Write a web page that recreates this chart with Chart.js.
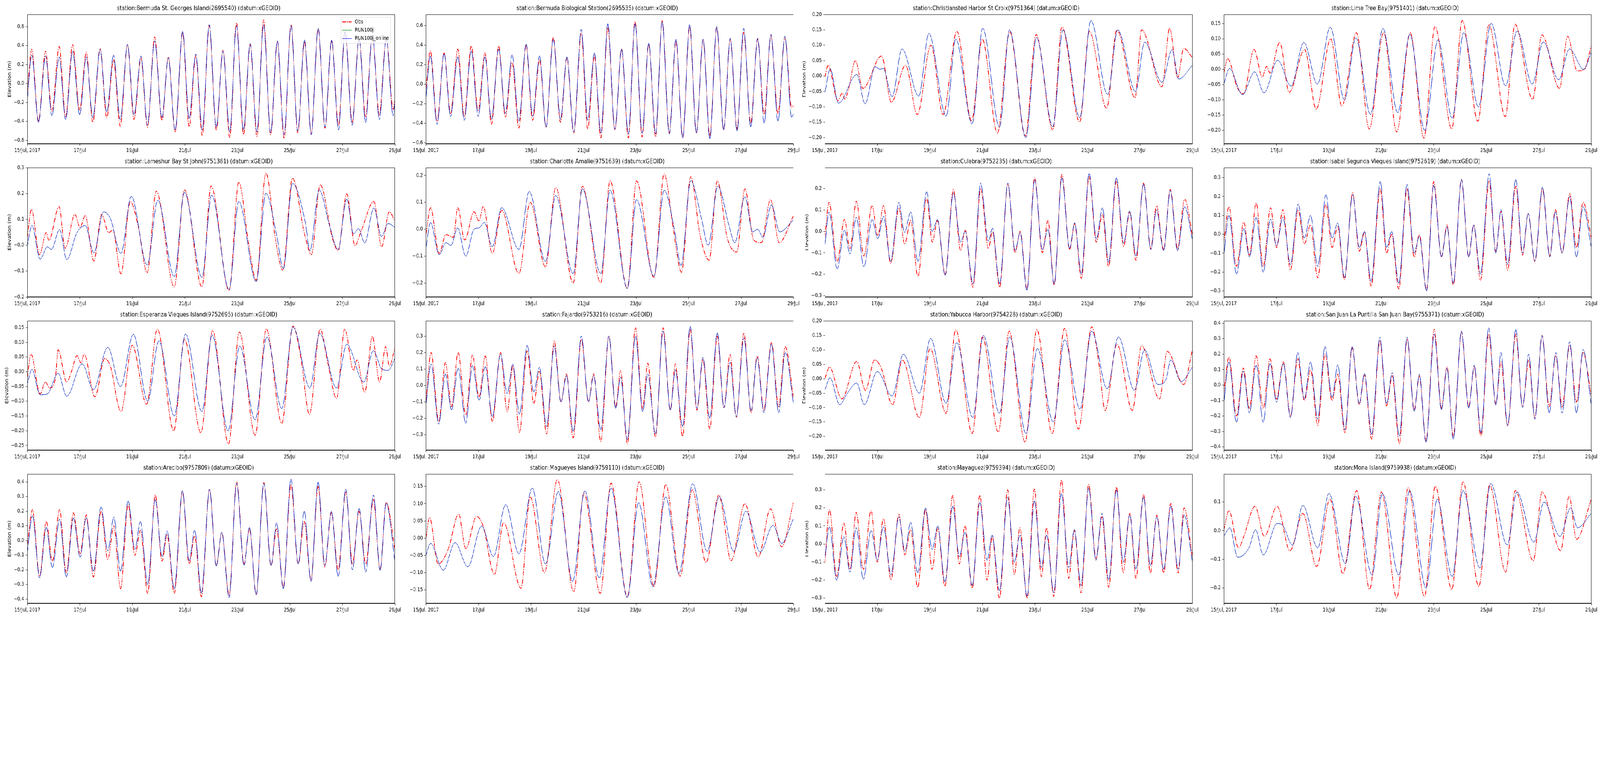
<!DOCTYPE html>
<html><head><meta charset="utf-8">
<script src="https://cdn.jsdelivr.net/npm/chart.js@4.4.0/dist/chart.umd.min.js"></script>
<style>
html,body{margin:0;padding:0;background:#fff;overflow:hidden}
#stage{position:absolute;left:0;top:0;width:5150px;height:1950px;background:#fff;transform-origin:0 0}
#stage canvas{position:absolute}
</style></head>
<body>
<div id="stage"></div>
<script>
// ---------------- DATA ----------------
const xTickLabels = ['15/Jul, 2017','17/Jul','19/Jul','21/Jul','23/Jul','25/Jul','27/Jul','29/Jul'];
const seriesLabels = ['Obs','RUN100j','RUN100j_online'];
const stationTitles = [
 'station:Bermuda St. Georges Island(2695540) (datum:xGEOID)',
 'station:Bermuda Biological Station(2695535) (datum:xGEOID)',
 'station:Christiansted Harbor St Croix(9751364) (datum:xGEOID)',
 'station:Lime Tree Bay(9751401) (datum:xGEOID)',
 'station:Lameshur Bay St John(9751381) (datum:xGEOID)',
 'station:Charlotte Amalie(9751639) (datum:xGEOID)',
 'station:Culebra(9752235) (datum:xGEOID)',
 'station:Isabel Segunda Vieques Island(9752619) (datum:xGEOID)',
 'station:Esperanza Vieques Island(9752695) (datum:xGEOID)',
 'station:Fajardo(9753216) (datum:xGEOID)',
 'station:Yabucoa Harbor(9754228) (datum:xGEOID)',
 'station:San Juan La Puntilla San Juan Bay(9755371) (datum:xGEOID)',
 'station:Arecibo(9757809) (datum:xGEOID)',
 'station:Magueyes Island(9759110) (datum:xGEOID)',
 'station:Mayaguez(9759394) (datum:xGEOID)',
 'station:Mona Island(9759938) (datum:xGEOID)'
];
const yMins  = [-0.636,-0.611,-0.22,-0.244,-0.249,-0.252,-0.306,-0.332,-0.266,-0.394,-0.248,-0.421,-0.429,-0.189,-0.329,-0.254];
const yMaxs  = [0.728,0.713,0.20,0.18,0.251,0.229,0.297,0.353,0.173,0.393,0.201,0.416,0.454,0.186,0.388,0.198];
const ySteps = [0.2,0.2,0.05,0.05,0.1,0.1,0.1,0.1,0.05,0.1,0.05,0.1,0.1,0.05,0.1,0.1];

// hours since 15 Jul 2017 00:00
const tBermuda = [0,4.0,10.2,16.6,22.5,29.1,35.0,41.4,47.8,53.9,59.9,66.5,72.6,78.8,84.9,91.6,97.5,103.9,109.8,116.4,123.0,128.9,135.1,142.0,147.9,154.0,159.9,166.3,172.7,178.9,185.0,191.2,197.6,203.7,209.9,216.0,222.4,228.6,234.7,241.1,247.2,253.4,259.5,265.9,272.1,278.2,284.4,290.5,296.9,303.3,309.2,315.4,321.8,328.2,334.3,336];
const modStGeorges = [-0.16,0.30,-0.41,0.29,-0.34,0.28,-0.38,0.34,-0.33,0.28,-0.36,0.36,-0.30,0.30,-0.38,0.41,-0.33,0.29,-0.44,0.45,-0.36,0.27,-0.49,0.55,-0.37,0.31,-0.49,0.62,-0.46,0.34,-0.51,0.61,-0.49,0.42,-0.51,0.62,-0.52,0.45,-0.54,0.61,-0.50,0.46,-0.54,0.58,-0.46,0.46,-0.49,0.55,-0.44,0.47,-0.41,0.51,-0.38,0.47,-0.34,-0.20];
const obsStGeorges = [-0.10,0.36,-0.40,0.34,-0.29,0.39,-0.35,0.41,-0.28,0.33,-0.41,0.37,-0.36,0.25,-0.45,0.41,-0.38,0.27,-0.46,0.49,-0.39,0.28,-0.51,0.54,-0.46,0.29,-0.55,0.61,-0.49,0.35,-0.57,0.64,-0.54,0.41,-0.56,0.67,-0.54,0.44,-0.58,0.62,-0.52,0.44,-0.53,0.58,-0.47,0.45,-0.44,0.55,-0.41,0.47,-0.35,0.50,-0.33,0.48,-0.27,-0.18];
const modBioStation = [-0.15,0.29,-0.41,0.31,-0.33,0.28,-0.37,0.34,-0.33,0.28,-0.36,0.36,-0.30,0.30,-0.38,0.41,-0.33,0.29,-0.44,0.46,-0.36,0.28,-0.49,0.56,-0.37,0.32,-0.50,0.62,-0.46,0.36,-0.51,0.62,-0.50,0.42,-0.51,0.64,-0.51,0.46,-0.55,0.61,-0.50,0.46,-0.56,0.59,-0.47,0.47,-0.48,0.57,-0.44,0.47,-0.40,0.51,-0.38,0.49,-0.34,-0.30];
const obsBioStation = [-0.05,0.34,-0.38,0.32,-0.30,0.36,-0.33,0.39,-0.27,0.32,-0.41,0.39,-0.34,0.22,-0.45,0.40,-0.37,0.25,-0.44,0.48,-0.39,0.27,-0.50,0.52,-0.46,0.29,-0.55,0.58,-0.47,0.36,-0.55,0.64,-0.54,0.41,-0.54,0.65,-0.50,0.44,-0.55,0.59,-0.50,0.45,-0.53,0.58,-0.47,0.46,-0.46,0.53,-0.40,0.46,-0.31,0.49,-0.30,0.47,-0.24,-0.22];

const tModChristiansted = [0,4.9,12.5,29.2,36.8,45.9,50.6,53.4,61.5,70.5,85.9,95.1,110.9,119.7,134.6,144.3,159.7,168.9,183.8,193.5,208.4,217.7,233.0,243.2,258.5,267.8,284.0,292.4,308.2,317.4,323.5,336];
const modChristiansted = [-0.055,0.023,-0.088,0.005,-0.09,0.03,0.022,0.025,-0.067,0.088,-0.065,0.138,-0.13,0.12,-0.155,0.155,-0.165,0.15,-0.20,0.125,-0.165,0.15,-0.135,0.18,-0.06,0.15,-0.05,0.11,-0.02,0.085,-0.01,0.035];
const tObsChristiansted = [0,3.0,12.0,15.8,18.2,21.5,27.9,34.7,51.8,60.8,73.8,84.5,97.0,108.1,120.7,134.1,143.9,157.8,169.0,183.3,193.1,208.4,216.7,233.0,241.8,257.6,266.9,283.6,289.6,308.2,315.2,322.6,328.1,336];
const obsChristiansted = [-0.005,0.035,-0.08,-0.055,-0.075,-0.045,0.05,-0.04,0.065,-0.085,0.035,-0.125,0.10,-0.125,0.145,-0.145,0.12,-0.185,0.145,-0.195,0.135,-0.175,0.16,-0.15,0.145,-0.105,0.15,-0.07,0.15,-0.035,0.155,-0.005,0.09,0.06];

const tModLimeTree = [0,5.2,17.1,28.2,36.8,49.3,61.5,73.2,85.6,97.4,110.3,120.8,134.2,145.5,159.1,170.1,183.7,195.9,208.8,219.4,232.8,244.5,257.6,268.2,282.0,292.1,306.2,316.1,329.0,336];
const modLimeTree = [-0.05,0.003,-0.083,-0.008,-0.077,0.03,-0.055,0.088,-0.048,0.138,-0.10,0.103,-0.148,0.134,-0.142,0.115,-0.20,0.097,-0.16,0.12,-0.123,0.151,-0.054,0.126,-0.048,0.09,-0.034,0.067,0.0,0.056];
const tObsLimeTree = [0,3.5,12.4,18.0,27.7,35.2,39.2,42.2,51.2,59.8,73.9,84.5,97.8,107.9,121.3,133.0,146.2,158.1,170.5,183.0,193.1,208.4,218.0,232.3,242.4,257.4,266.3,282.3,290.9,306.9,314.4,323.1,329.6,336];
const obsLimeTree = [-0.015,0.035,-0.06,-0.08,0.065,-0.025,0.01,-0.012,0.088,-0.075,0.065,-0.13,0.10,-0.12,0.12,-0.195,0.12,-0.205,0.12,-0.225,0.14,-0.195,0.16,-0.17,0.145,-0.155,0.148,-0.098,0.113,-0.062,0.108,-0.005,0.0,0.077];

const tModLameshur = [0,4.2,11.7,18.3,22.0,29.5,36.0,45.4,52.9,60.8,69.7,75.8,85.6,95.0,109.5,119.3,134.3,143.6,159.6,168.5,184.4,193.3,209.2,218.1,227.9,234.0,242.4,254.1,258.3,266.8,276.1,284.1,292.0,298.1,302.8,308.4,316.8,323.8,329.9,336];
const modLameshur = [-0.05,0.027,-0.103,-0.055,-0.065,0.012,-0.104,0.0,0.027,-0.078,0.08,0.055,-0.08,0.14,-0.125,0.125,-0.17,0.155,-0.173,0.145,-0.22,0.12,-0.19,0.152,-0.01,-0.14,0.19,0.04,-0.07,0.165,0.03,-0.065,0.13,-0.005,0.015,-0.04,0.095,-0.015,0.035,0.02];
const tObsLameshur = [0,3.7,11.2,17.3,19.7,29.0,34.6,43.5,48.2,52.9,60.8,67.9,74.4,78.2,85.6,94.1,101.6,109.5,117.9,134.3,143.7,159.6,168.0,184.4,193.3,202.2,209.2,218.1,227.0,233.5,242.4,253.7,259.7,267.7,279.4,284.1,292.0,299.5,305.1,316.8,323.9,330.9,336];
const obsLameshur = [-0.02,0.09,-0.085,0.0,-0.03,0.10,-0.06,0.07,0.02,0.065,-0.11,0.07,0.0,0.01,-0.16,0.12,0.02,-0.155,0.16,-0.21,0.165,-0.21,0.18,-0.225,0.195,-0.04,-0.185,0.23,-0.03,-0.145,0.21,-0.01,-0.085,0.185,-0.03,-0.07,0.15,-0.05,0.005,0.12,-0.055,0.08,0.045];

const tModCharlotte = [0,4.2,12.1,18.2,22.9,29.0,36.4,43.9,48.6,53.3,60.7,69.2,85.0,94.4,109.3,118.7,134.6,143.0,159.8,168.3,184.1,192.5,208.4,217.8,227.1,233.2,242.1,251.9,258.0,266.9,276.7,282.3,291.6,298.7,303.3,308.0,315.9,323.4,336];
const modCharlotte = [-0.07,0.025,-0.095,-0.05,-0.06,0.005,-0.10,0.0,0.005,0.025,-0.065,0.08,-0.075,0.14,-0.12,0.125,-0.165,0.15,-0.165,0.145,-0.22,0.11,-0.175,0.145,0.0,-0.135,0.18,0.04,-0.06,0.16,0.02,-0.05,0.12,-0.01,0.0,-0.03,0.09,-0.01,0.035];
const tObsCharlotte = [0,4.2,12.1,18.2,25.2,29.0,35.5,43.9,48.6,52.3,60.7,69.2,85.0,95.3,109.3,118.7,134.6,143.0,159.8,168.3,184.1,192.5,208.4,217.8,226.2,233.6,242.1,250.5,258.9,266.4,275.3,284.1,291.6,299.6,306.6,315.0,322.9,336];
const obsCharlotte = [-0.02,0.08,-0.09,-0.02,-0.03,0.08,-0.04,0.065,0.03,0.085,-0.09,0.07,-0.165,0.10,-0.14,0.155,-0.20,0.16,-0.20,0.18,-0.22,0.18,-0.18,0.205,0.0,-0.16,0.195,-0.02,-0.115,0.18,-0.03,-0.085,0.15,-0.04,-0.05,0.11,-0.05,0.05];

const tCulebra = [0,3.8,11.3,17.9,23.0,28.7,35.7,43.2,48.4,53.6,60.2,67.7,72.9,78.5,85.1,93.1,98.2,102.9,110.0,117.5,124.1,128.3,135.4,142.4,149.5,153.2,159.8,167.3,173.9,178.6,184.7,191.8,198.8,204.0,209.6,216.7,223.7,228.4,234.5,241.6,248.2,253.8,259.4,266.5,273.1,278.7,284.4,291.4,298.0,303.2,309.7,315.8,322.4,329.0,336];
const modCulebra = [-0.07,0.09,-0.175,0.005,-0.105,0.065,-0.165,0.055,-0.035,0.07,-0.14,0.135,-0.005,0.09,-0.14,0.185,0.0,0.055,-0.205,0.18,-0.05,0.0,-0.245,0.225,-0.045,0.015,-0.245,0.225,-0.09,-0.005,-0.275,0.24,-0.085,0.01,-0.245,0.25,-0.08,0.04,-0.20,0.27,-0.035,0.11,-0.145,0.25,-0.055,0.095,-0.115,0.22,-0.085,0.10,-0.09,0.19,-0.09,0.115,-0.04];
const obsCulebra = [-0.03,0.135,-0.14,0.055,-0.08,0.14,-0.115,0.12,-0.02,0.12,-0.15,0.11,-0.06,0.05,-0.21,0.155,-0.05,0.05,-0.20,0.195,-0.09,0.005,-0.26,0.20,-0.08,0.0,-0.26,0.22,-0.10,0.0,-0.27,0.25,-0.10,0.05,-0.25,0.265,-0.085,0.035,-0.22,0.255,-0.05,0.08,-0.165,0.235,-0.07,0.09,-0.135,0.225,-0.08,0.12,-0.085,0.195,-0.08,0.15,-0.02];

const tIsabel = [0,4.7,11.7,18.3,23.5,29.6,36.1,42.7,48.3,54.0,61.0,68.0,73.7,79.3,85.9,93.4,99.0,104.2,110.3,117.8,123.9,128.6,134.7,143.1,148.8,153.5,160.0,167.5,174.1,178.8,185.4,191.9,199.0,204.1,209.8,217.3,223.9,228.5,234.7,242.6,248.7,253.4,259.5,267.0,273.1,278.3,284.4,291.4,298.0,303.2,309.3,316.3,322.4,328.5,336];
const modIsabel = [-0.12,0.10,-0.21,0.03,-0.12,0.09,-0.20,0.08,-0.06,0.09,-0.16,0.16,-0.02,0.10,-0.17,0.21,-0.02,0.06,-0.23,0.21,-0.07,0.015,-0.25,0.28,-0.07,0.015,-0.26,0.265,-0.10,-0.01,-0.30,0.26,-0.12,0.04,-0.26,0.29,-0.12,0.05,-0.21,0.32,-0.10,0.13,-0.16,0.29,-0.10,0.11,-0.14,0.25,-0.12,0.12,-0.10,0.20,-0.12,0.145,-0.07];
const obsIsabel = [-0.05,0.145,-0.17,0.065,-0.11,0.165,-0.17,0.14,-0.07,0.13,-0.19,0.13,-0.05,0.05,-0.23,0.16,-0.07,0.04,-0.24,0.22,-0.09,0.01,-0.275,0.24,-0.10,0.0,-0.29,0.24,-0.12,0.0,-0.295,0.28,-0.12,0.05,-0.27,0.29,-0.12,0.05,-0.245,0.28,-0.09,0.12,-0.19,0.255,-0.11,0.11,-0.145,0.24,-0.115,0.13,-0.095,0.215,-0.07,0.17,-0.02];

const tModEsperanza = [0,4.2,11.7,18.3,28.1,36.0,50.1,60.4,73.5,85.2,96.9,110.0,120.3,134.3,144.6,159.6,168.9,183.5,194.2,208.2,219.0,232.6,242.9,258.3,267.2,282.6,292.0,307.5,316.3,323.9,329.9,336];
const modEsperanza = [-0.04,0.008,-0.078,-0.075,-0.005,-0.083,0.027,-0.06,0.083,-0.05,0.127,-0.10,0.105,-0.15,0.128,-0.135,0.125,-0.20,0.087,-0.163,0.118,-0.125,0.152,-0.055,0.13,-0.055,0.093,-0.035,0.072,0.01,0.005,0.045];
const tObsEsperanza = [0,3.3,11.7,16.4,20.6,25.7,28.1,36.0,40.7,45.4,49.1,51.9,61.8,70.7,75.8,85.6,95.9,109.0,118.9,133.8,143.7,158.6,169.4,183.9,193.8,208.2,218.5,232.6,242.9,250.4,257.9,267.7,274.7,282.7,290.2,298.1,301.4,308.4,315.4,322.0,327.6,330.9,336];
const obsEsperanza = [-0.02,0.06,-0.075,-0.035,-0.055,-0.02,0.075,-0.035,0.005,0.055,0.03,0.06,-0.085,0.045,0.02,-0.135,0.09,-0.11,0.145,-0.20,0.11,-0.207,0.14,-0.245,0.135,-0.215,0.145,-0.175,0.155,0.04,-0.145,0.145,0.03,-0.09,0.145,0.005,0.04,-0.07,0.12,-0.035,0.085,0.02,0.08];

const tFajardo = [0,4.7,11.7,17.8,23.4,29.4,36.4,42.5,48.6,54.2,60.7,68.2,74.3,79.4,85.5,92.5,98.6,103.7,110.3,117.3,123.4,128.5,134.6,142.1,148.6,153.3,159.8,167.3,173.4,178.0,184.1,191.6,198.1,202.8,209.8,216.8,223.4,228.0,234.6,241.6,247.7,253.3,259.4,266.4,272.4,278.0,283.7,290.7,297.2,302.8,308.9,315.9,322.4,328.5,336];
const modFajardo = [-0.12,0.13,-0.235,0.07,-0.15,0.105,-0.23,0.12,-0.09,0.115,-0.19,0.19,-0.05,0.13,-0.175,0.245,-0.04,0.11,-0.25,0.24,-0.10,0.06,-0.28,0.30,-0.10,0.06,-0.27,0.30,-0.14,0.05,-0.33,0.30,-0.16,0.07,-0.295,0.33,-0.15,0.095,-0.25,0.36,-0.14,0.17,-0.20,0.32,-0.135,0.14,-0.19,0.29,-0.155,0.17,-0.165,0.25,-0.165,0.20,-0.115];
const obsFajardo = [-0.10,0.20,-0.22,0.14,-0.13,0.20,-0.18,0.185,-0.07,0.18,-0.22,0.20,-0.16,0.12,-0.285,0.21,-0.11,0.085,-0.295,0.27,-0.10,0.07,-0.32,0.28,-0.10,0.07,-0.34,0.30,-0.13,0.09,-0.355,0.35,-0.14,0.135,-0.315,0.35,-0.15,0.13,-0.31,0.34,-0.15,0.16,-0.265,0.30,-0.135,0.19,-0.195,0.32,-0.165,0.18,-0.15,0.26,-0.13,0.235,-0.08];

const tModYabucoa = [0,4.7,13.6,20.6,29.1,36.1,47.9,61.5,71.8,86.4,96.7,110.8,120.6,135.2,145.0,159.6,169.0,183.9,194.3,208.8,219.2,233.2,244.0,258.1,268.4,283.0,292.3,304.5,311.6,316.3,325.7,336];
const modYabucoa = [-0.04,0.003,-0.09,-0.05,-0.015,-0.09,0.025,-0.06,0.085,-0.05,0.14,-0.085,0.125,-0.135,0.15,-0.12,0.145,-0.19,0.105,-0.15,0.135,-0.105,0.165,-0.035,0.145,-0.04,0.10,-0.02,-0.005,0.065,-0.01,0.04];
const tObsYabucoa = [0,4.2,15.5,29.1,37.1,45.5,51.2,61.9,70.9,86.4,96.2,110.8,119.7,134.7,144.1,158.6,168.5,183.0,193.8,207.9,219.2,231.8,244.0,250.6,256.2,267.0,281.1,289.5,305.9,313.0,328.0,336];
const obsYabucoa = [0.0,0.04,-0.07,0.06,-0.04,0.065,0.04,-0.09,0.065,-0.135,0.105,-0.12,0.17,-0.19,0.145,-0.185,0.165,-0.22,0.17,-0.19,0.175,-0.175,0.18,0.05,-0.11,0.12,-0.11,0.115,-0.07,0.095,-0.02,0.10];

const tSanJuan = [0,4.7,11.7,17.8,23.5,29.6,36.1,42.2,48.3,54.4,61.0,67.6,73.7,79.3,85.9,92.5,99.0,104.2,110.8,117.3,123.9,128.6,135.2,142.7,148.8,154.0,160.5,167.6,174.1,178.8,184.9,192.4,199.0,204.1,209.8,217.3,223.9,229.0,235.1,242.2,248.7,253.4,259.5,267.0,273.1,278.8,284.4,291.0,297.5,303.6,309.3,316.3,322.4,328.5,336];
const modSanJuan = [-0.13,0.15,-0.24,0.09,-0.18,0.13,-0.24,0.14,-0.11,0.14,-0.21,0.21,-0.09,0.15,-0.22,0.25,-0.08,0.13,-0.29,0.25,-0.12,0.075,-0.32,0.31,-0.12,0.08,-0.33,0.31,-0.17,0.07,-0.37,0.33,-0.16,0.11,-0.35,0.35,-0.15,0.13,-0.31,0.37,-0.13,0.21,-0.26,0.36,-0.145,0.20,-0.22,0.32,-0.18,0.21,-0.18,0.28,-0.18,0.23,-0.13];
const obsSanJuan = [-0.06,0.18,-0.20,0.11,-0.15,0.19,-0.15,0.17,-0.09,0.15,-0.20,0.17,-0.10,0.10,-0.26,0.20,-0.10,0.07,-0.31,0.24,-0.125,0.065,-0.35,0.29,-0.135,0.06,-0.38,0.30,-0.16,0.06,-0.36,0.36,-0.15,0.12,-0.33,0.34,-0.14,0.12,-0.33,0.33,-0.12,0.15,-0.265,0.33,-0.14,0.16,-0.21,0.32,-0.14,0.19,-0.14,0.26,-0.11,0.21,-0.07];

const tArecibo = [0,4.7,11.2,17.3,22.9,29.5,35.6,42.1,48.2,53.8,60.4,67.4,73.5,79.1,85.2,92.2,98.3,103.4,110.0,117.0,123.1,127.8,134.3,141.8,147.9,153.0,159.1,166.6,172.7,177.8,184.4,191.4,198.0,203.1,209.2,216.2,222.8,227.9,234.0,241.0,247.6,253.2,259.3,265.8,271.9,278.0,284.1,291.1,297.2,303.3,309.3,316.4,322.5,328.1,336];
const modArecibo = [-0.08,0.17,-0.255,0.09,-0.185,0.145,-0.25,0.155,-0.115,0.155,-0.21,0.23,-0.07,0.16,-0.21,0.27,-0.06,0.13,-0.30,0.28,-0.11,0.065,-0.33,0.34,-0.14,0.07,-0.36,0.35,-0.175,0.055,-0.39,0.39,-0.17,0.09,-0.37,0.39,-0.17,0.12,-0.33,0.42,-0.16,0.20,-0.28,0.40,-0.17,0.20,-0.245,0.35,-0.20,0.22,-0.215,0.31,-0.205,0.255,-0.14];
const obsArecibo = [-0.03,0.21,-0.245,0.13,-0.14,0.21,-0.22,0.19,-0.09,0.175,-0.25,0.20,-0.13,0.10,-0.33,0.245,-0.10,0.07,-0.36,0.31,-0.14,0.04,-0.36,0.335,-0.16,0.03,-0.385,0.35,-0.17,0.055,-0.375,0.40,-0.16,0.08,-0.37,0.395,-0.17,0.08,-0.32,0.38,-0.16,0.13,-0.27,0.37,-0.18,0.19,-0.20,0.33,-0.16,0.20,-0.16,0.28,-0.20,0.26,-0.06];

const tModMagueyes = [0,4.2,15.9,26.6,38.3,50.9,61.7,72.9,85.0,97.2,109.3,121.0,134.1,145.3,158.4,169.2,184.1,194.4,207.5,219.2,231.3,243.9,257.0,268.2,281.3,292.5,305.6,317.3,325.2,336];
const modMagueyes = [-0.05,-0.015,-0.093,-0.013,-0.083,0.035,-0.053,0.097,-0.045,0.145,-0.075,0.135,-0.125,0.137,-0.115,0.145,-0.172,0.103,-0.14,0.12,-0.102,0.158,-0.038,0.12,-0.038,0.078,-0.04,0.037,-0.015,0.057];
const tObsMagueyes = [0,3.3,11.2,20.6,29.9,36.4,46.3,52.3,62.6,71.0,86.9,95.3,108.4,120.1,135.1,144.4,159.4,169.2,184.1,194.9,208.4,219.2,232.3,243.5,256.1,267.8,279.0,291.6,303.8,315.0,325.2,336];
const obsMagueyes = [0.0,0.06,-0.075,-0.03,0.07,-0.03,0.063,0.035,-0.105,0.045,-0.145,0.12,-0.10,0.17,-0.155,0.13,-0.16,0.16,-0.17,0.163,-0.14,0.155,-0.11,0.14,-0.07,0.125,-0.065,0.10,-0.055,0.085,-0.025,0.105];

const tMayaguez = [0,4.2,10.8,17.4,23.0,28.6,35.2,42.2,47.9,53.5,60.5,67.6,73.2,78.4,84.9,92.0,98.1,103.2,109.8,116.9,123.0,128.1,134.7,141.7,148.3,153.0,159.6,167.1,173.2,178.3,184.9,191.5,198.0,202.7,209.3,216.3,222.9,228.1,234.2,241.2,247.8,253.4,259.5,266.6,272.7,278.8,284.4,291.4,297.5,303.6,309.7,316.3,322.9,328.5,336];
const modMayaguez = [-0.08,0.095,-0.20,0.04,-0.155,0.09,-0.195,0.075,-0.09,0.095,-0.17,0.15,-0.04,0.12,-0.16,0.20,-0.03,0.10,-0.21,0.21,-0.07,0.065,-0.23,0.23,-0.09,0.05,-0.26,0.26,-0.10,0.05,-0.29,0.24,-0.13,0.05,-0.27,0.28,-0.13,0.08,-0.23,0.31,-0.09,0.17,-0.20,0.30,-0.10,0.16,-0.14,0.26,-0.12,0.15,-0.14,0.21,-0.14,0.16,-0.10];
const obsMayaguez = [-0.11,0.19,-0.18,0.115,-0.14,0.175,-0.14,0.185,-0.10,0.14,-0.20,0.165,-0.06,0.08,-0.24,0.19,-0.14,0.09,-0.235,0.27,-0.11,0.10,-0.245,0.27,-0.20,0.04,-0.30,0.30,-0.17,0.09,-0.30,0.305,-0.18,0.09,-0.29,0.355,-0.19,0.075,-0.27,0.33,-0.08,0.15,-0.24,0.315,-0.16,0.17,-0.19,0.275,-0.16,0.16,-0.16,0.225,-0.16,0.20,-0.07];

const tModMona = [0,5.6,12.7,23.0,29.1,36.1,48.8,53.5,62.9,72.3,85.9,96.2,111.2,120.6,135.6,145.0,160.0,169.9,184.9,195.2,208.8,218.7,234.2,244.0,259.1,268.0,283.5,292.8,307.4,317.2,323.3,336];
const modMona = [-0.02,0.01,-0.093,-0.06,0.003,-0.085,0.025,0.02,-0.05,0.088,-0.06,0.13,-0.115,0.12,-0.155,0.13,-0.155,0.14,-0.20,0.11,-0.16,0.14,-0.13,0.165,-0.05,0.135,-0.04,0.10,-0.02,0.08,0.01,0.06];
const tObsMona = [0,4.7,13.6,18.3,28.6,37.1,48.8,60.5,72.3,84.9,97.1,108.9,121.5,133.3,144.1,158.2,168.5,183.5,193.4,208.4,218.7,233.2,243.1,257.6,266.6,283.0,291.0,307.9,315.8,322.4,336];
const obsMona = [0.0,0.07,-0.06,-0.02,0.085,-0.02,0.085,-0.07,0.06,-0.125,0.11,-0.15,0.14,-0.205,0.135,-0.235,0.15,-0.23,0.155,-0.205,0.17,-0.195,0.16,-0.145,0.14,-0.105,0.135,-0.07,0.12,-0.03,0.11];

// table built from the arrays above
const stationSeries = [
  [tBermuda, modStGeorges, tBermuda, obsStGeorges],
  [tBermuda, modBioStation, tBermuda, obsBioStation],
  [tModChristiansted, modChristiansted, tObsChristiansted, obsChristiansted],
  [tModLimeTree, modLimeTree, tObsLimeTree, obsLimeTree],
  [tModLameshur, modLameshur, tObsLameshur, obsLameshur],
  [tModCharlotte, modCharlotte, tObsCharlotte, obsCharlotte],
  [tCulebra, modCulebra, tCulebra, obsCulebra],
  [tIsabel, modIsabel, tIsabel, obsIsabel],
  [tModEsperanza, modEsperanza, tObsEsperanza, obsEsperanza],
  [tFajardo, modFajardo, tFajardo, obsFajardo],
  [tModYabucoa, modYabucoa, tObsYabucoa, obsYabucoa],
  [tSanJuan, modSanJuan, tSanJuan, obsSanJuan],
  [tArecibo, modArecibo, tArecibo, obsArecibo],
  [tModMagueyes, modMagueyes, tObsMagueyes, obsMagueyes],
  [tMayaguez, modMayaguez, tMayaguez, obsMayaguez],
  [tModMona, modMona, tObsMona, obsMona]
];

// ---------------- LAYOUT / STYLE ----------------
const DESIGN_W = 5150, DESIGN_H = 1950;
const stage = document.getElementById('stage');
(function fitStage() {
  const vw = window.innerWidth || DESIGN_W, vh = window.innerHeight || DESIGN_H;
  const sx = vw / DESIGN_W, sy = vh / DESIGN_H;
  if (Math.abs(sx - 1) > 0.001 || Math.abs(sy - 1) > 0.001) {
    stage.style.transform = 'scale(' + sx + ',' + sy + ')';
  }
})();

const FONT = "'DejaVu Sans', 'Liberation Sans', sans-serif";
Chart.defaults.font.family = FONT;
Chart.defaults.color = '#000';
const COL_LEFT = [88, 1371, 2655, 3939];
const ROW_TOP = [37, 429, 821, 1213];
const AXW = 1183, AXH = 331;
const YW = 80, XH = 40, TH = 30, RP = 50;
const COLORS = {obs: '#ff0000', run: '#008000', online: '#0000ff'};
const OBS_DASH = [12, 3, 2.5, 3];

const framePlugin = {
  id: 'frame',
  afterDraw(chart) {
    const {ctx, chartArea: a} = chart;
    ctx.save();
    ctx.strokeStyle = '#000';
    ctx.lineWidth = 1;
    ctx.strokeRect(Math.round(a.left) + 0.5, Math.round(a.top) + 0.5, Math.round(a.right - a.left) - 1, Math.round(a.bottom - a.top) - 1);
    ctx.restore();
  }
};

const legendPlugin = {
  id: 'mplLegend',
  afterDraw(chart, args, opts) {
    if (!opts || !opts.show) return;
    const {ctx, chartArea: a} = chart;
    const bw = 159, bh = 67;
    const bx = a.right - 14 - bw, by = a.top + 7;
    ctx.save();
    const r = 3;
    ctx.beginPath();
    ctx.moveTo(bx + r, by);
    ctx.lineTo(bx + bw - r, by); ctx.arcTo(bx + bw, by, bx + bw, by + r, r);
    ctx.lineTo(bx + bw, by + bh - r); ctx.arcTo(bx + bw, by + bh, bx + bw - r, by + bh, r);
    ctx.lineTo(bx + r, by + bh); ctx.arcTo(bx, by + bh, bx, by + bh - r, r);
    ctx.lineTo(bx, by + r); ctx.arcTo(bx, by, bx + r, by, r);
    ctx.closePath();
    ctx.fillStyle = 'rgba(255,255,255,0.8)';
    ctx.fill();
    ctx.strokeStyle = '#d6d6d6';
    ctx.lineWidth = 1;
    ctx.stroke();
    const items = [
      {label: seriesLabels[0], color: COLORS.obs, w: 2.5, dash: OBS_DASH},
      {label: seriesLabels[1], color: COLORS.run, w: 1.2, dash: []},
      {label: seriesLabels[2], color: COLORS.online, w: 1.2, dash: []}
    ];
    items.forEach((it, i) => {
      const y = by + 12 + i * 21.3;
      ctx.beginPath();
      ctx.setLineDash(it.dash);
      ctx.strokeStyle = it.color;
      ctx.lineWidth = it.w;
      ctx.moveTo(bx + 4, y); ctx.lineTo(bx + 34, y);
      ctx.stroke();
      ctx.setLineDash([]);
      ctx.fillStyle = '#000';
      ctx.font = "13.9px " + FONT;
      ctx.textBaseline = 'middle';
      ctx.textAlign = 'left';
      ctx.fillText(it.label, bx + 44, y);
    });
    ctx.restore();
  }
};

function pts(ts, vs) { return ts.map((t, i) => ({x: t, y: vs[i]})); }

stationSeries.forEach((s, k) => {
  const row = Math.floor(k / 4), col = k % 4;
  const left = COL_LEFT[col] - YW, top = ROW_TOP[row] - TH;
  const W = YW + AXW + RP, H = TH + AXH + XH;
  const cv = document.createElement('canvas');
  cv.width = W; cv.height = H;
  cv.style.left = left + 'px'; cv.style.top = top + 'px';
  cv.style.width = W + 'px'; cv.style.height = H + 'px';
  stage.appendChild(cv);
  const dec = ySteps[k] < 0.1 ? 2 : 1;
  const showYTitle = (col === 0 || col === 2);
  const tickW = dec === 2 ? 42.4 : 33.6;
  const titlePad = Math.max(0, YW - 9.8 - tickW - 5.6 - 8 - 8.3);
  new Chart(cv, {
    type: 'line',
    data: {
      datasets: [
        {label: seriesLabels[2], data: pts(s[0], s[1]), borderColor: COLORS.online, borderWidth: 1, pointRadius: 0, cubicInterpolationMode: 'monotone', fill: false},
        {label: seriesLabels[1], data: pts(s[0], s[1]), borderColor: COLORS.run, borderWidth: 1, pointRadius: 0, cubicInterpolationMode: 'monotone', fill: false},
        {label: seriesLabels[0], data: pts(s[2], s[3]), borderColor: COLORS.obs, borderWidth: 2, borderDash: OBS_DASH, pointRadius: 0, cubicInterpolationMode: 'monotone', fill: false}
      ]
    },
    options: {
      responsive: false,
      animation: false,
      devicePixelRatio: 1,
      parsing: false,
      layout: {padding: {top: 0, left: 0, bottom: 0, right: RP}},
      plugins: {
        legend: {display: false},
        tooltip: {enabled: false},
        title: {display: true, text: stationTitles[k], color: '#000', font: {family: FONT, size: 16.7, weight: 'normal', lineHeight: '20px'}, padding: {top: 5, bottom: 5}},
        mplLegend: {show: k === 0}
      },
      scales: {
        x: {
          type: 'linear', min: 0, max: 336,
          afterFit: sc => { sc.height = XH; },
          grid: {display: true, drawOnChartArea: false, drawTicks: true, tickLength: 5, color: '#000', tickColor: '#000'},
          border: {display: true, color: '#000', width: 1},
          ticks: {stepSize: 48, autoSkip: false, maxRotation: 0, minRotation: 0, padding: 4, color: '#000', font: {family: FONT, size: 13.9},
            callback: v => xTickLabels[Math.round(v / 48)]}
        },
        y: {
          type: 'linear', min: yMins[k], max: yMaxs[k],
          afterFit: sc => { sc.width = YW; },
          grid: {display: true, drawOnChartArea: false, drawTicks: true, tickLength: 5, color: '#000', tickColor: '#000'},
          border: {display: true, color: '#000', width: 1},
          title: {display: showYTitle, text: 'Elevation (m)', color: '#000', font: {family: FONT, size: 13.9}, padding: {top: titlePad, bottom: 0}},
          ticks: {stepSize: ySteps[k], includeBounds: false, autoSkip: false, padding: 5, color: '#000', font: {family: FONT, size: 13.9},
            callback: v => { const z = Math.abs(v) < 1e-9 ? 0 : v; return z.toFixed(dec).replace('-', '\u2212'); }}
        }
      }
    },
    plugins: [framePlugin, legendPlugin]
  });
});
</script>
</body></html>
